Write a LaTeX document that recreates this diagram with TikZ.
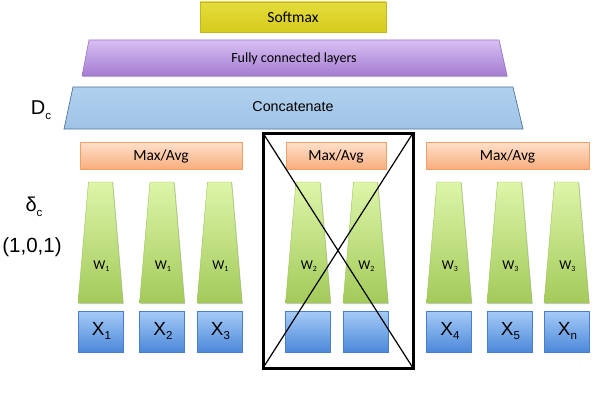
\documentclass[tikz,border=0pt]{standalone}
\usepackage{fontspec}
\setmainfont{Carlito}
\newfontfamily\arialf{Liberation Sans}
\usetikzlibrary{shadows}
\definecolor{softtop}{HTML}{E4DC3C}
\definecolor{softbot}{HTML}{D6CC1C}
\definecolor{softline}{HTML}{C2B81E}
\definecolor{fctop}{HTML}{D7C0F2}
\definecolor{fcbot}{HTML}{A47BD2}
\definecolor{fcline}{HTML}{9A72C6}
\definecolor{cctop}{HTML}{B0D0EE}
\definecolor{ccbot}{HTML}{A0C4E6}
\definecolor{ccline}{HTML}{51759C}
\definecolor{matop}{HTML}{FEE0CC}
\definecolor{mabot}{HTML}{F9AE7E}
\definecolor{maline}{HTML}{F3A066}
\definecolor{grtop}{HTML}{DDF5A9}
\definecolor{grbot}{HTML}{A3CA5A}
\definecolor{grline}{HTML}{9DC257}
\definecolor{bltop}{HTML}{A6CBF8}
\definecolor{blbot}{HTML}{4C88D9}
\definecolor{blline}{HTML}{4A7EC6}
\tikzset{
  shad/.style={drop shadow={shadow xshift=0.8pt,shadow yshift=-1.2pt,opacity=0.2,fill=black}},
  softbox/.style={draw=softline,line width=0.6pt,top color=softtop,bottom color=softbot,shad},
  fcbox/.style={draw=fcline,line width=0.6pt,top color=fctop,bottom color=fcbot,shad},
  ccbox/.style={draw=ccline,line width=0.7pt,top color=cctop,bottom color=ccbot},
  mabox/.style={draw=maline,line width=0.6pt,top color=matop,bottom color=mabot,shad},
  grbox/.style={draw=grline,line width=0.4pt,top color=grtop,bottom color=grbot,shad},
  blbox/.style={draw=blline,line width=0.6pt,top color=bltop,bottom color=blbot,shad},
  lbl/.style={inner sep=0pt,font=\fontsize{15.5}{15.5}\selectfont},
  wlbl/.style={inner sep=0pt,font=\fontsize{13.5}{13.5}\selectfont},
  xlbl/.style={inner sep=0pt,font=\arialf\fontsize{19}{19}\selectfont},
  side/.style={inner sep=0pt,font=\arialf\fontsize{20}{20}\selectfont},
  frame/.style={draw=black,line width=3pt},
  crossline/.style={draw=black,line width=1.2pt}
}
\newcommand{\xsub}[1]{\raisebox{-0.45ex}{\fontsize{11.5}{11.5}\selectfont #1}}
\newcommand{\wsub}[1]{\raisebox{-0.35ex}{\fontsize{8}{8}\selectfont #1}}
\begin{document}
\begin{tikzpicture}[x=1pt,y=-1pt]
\useasboundingbox[fill=white] (0,0) rectangle (592,404);
% Softmax
\path[softbox] (200,2) rectangle (386,32);
\node[lbl] (softmax) at (293,17.5) {Softmax};
% Fully connected
\path[fcbox] (89,40) -- (499,40) -- (507,76) -- (82,76) -- cycle;
\node[lbl,font=\fontsize{14}{14}\selectfont] (fc) at (294,59) {Fully connected layers};
% Concatenate
\path[ccbox] (73,87) -- (513,87) -- (523,129) -- (64,129) -- cycle;
\node[inner sep=0pt,font=\arialf\fontsize{14.3}{14.3}\selectfont] (concat) at (293,107) {Concatenate};
% side labels
\node[side] (dc) at (41,110) {D\xsub{c}};
\node[side] (deltac) at (34,207) {δ\xsub{c}};
\node[side,font=\arialf\fontsize{20.5}{20.5}\selectfont] (code) at (32,247) {(1,0,1)};
% Max/Avg boxes
\path[mabox] (80,142) rectangle (242,169);
\node[lbl] (ma1) at (161,156) {Max/Avg};
\path[mabox] (286,142) rectangle (386,169);
\node[lbl] (ma2) at (336,156) {Max/Avg};
\path[mabox] (426,142) rectangle (589,169);
\node[lbl] (ma3) at (507.5,156) {Max/Avg};
% green trapezoids and blue inputs
\foreach \c/\w/\xl [count=\i] in {100.5/1/X\xsub{1}, 162/1/X\xsub{2}, 219.5/1/X\xsub{3}, 308/2/, 365.5/2/, 449/3/X\xsub{4}, 509.5/3/X\xsub{5}, 566.5/3/X\xsub{n}}{
  \path[grbox] (\c-12,182) -- (\c+12,182) -- (\c+22.5,303) -- (\c-22.5,303) -- cycle;
  \node[wlbl] (w\i) at (\c+1,266) {W\wsub{\w}};
  \path[blbox] (\c-22.5,311) rectangle (\c+22.5,352);
  \node[xlbl] (x\i) at (\c+1,331) {\xl};
}
% crossed-out frame
\coordinate (ftl) at (263,133);
\coordinate (ftr) at (413,133);
\coordinate (fbl) at (263,368);
\coordinate (fbr) at (413,368);
\draw[crossline] (ftl) -- (fbr);
\draw[crossline] (fbl) -- (ftr);
\draw[frame] (ftl) rectangle (fbr);
\end{tikzpicture}
\end{document}
